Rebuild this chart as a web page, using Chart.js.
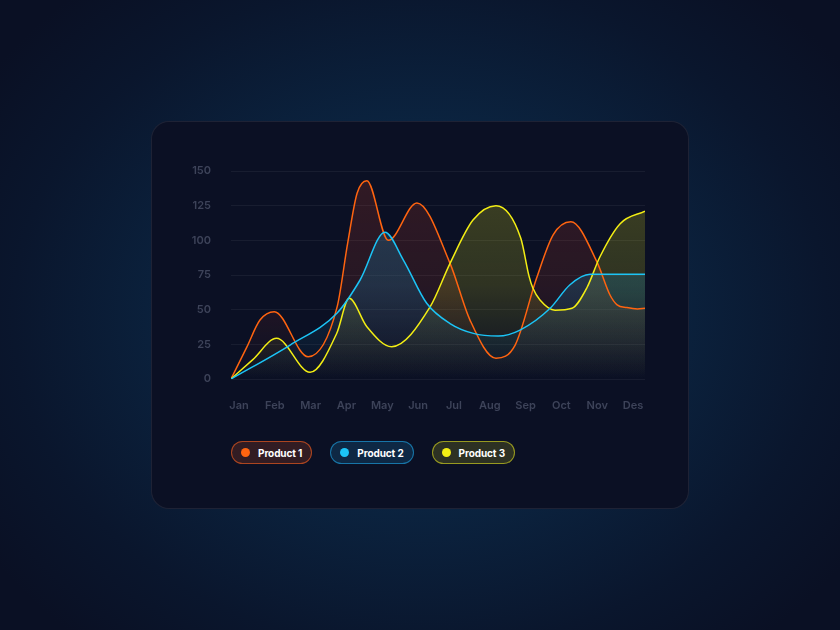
<!DOCTYPE html>
<html>
<head>
<meta charset="utf-8">
<script src="https://cdn.jsdelivr.net/npm/chart.js@4"></script>
<style>
  html, body { margin: 0; padding: 0; }
  body {
    width: 840px; height: 630px; overflow: hidden; position: relative;
    background: #0a1024;
    background: radial-gradient(ellipse 62% 68% at 50% 50%, #0c2d4c 0%, #0b2542 40%, #0a162d 78%, #0a1024 100%);
    font-family: Inter, "Noto Sans", sans-serif;
  }
  .card {
    position: absolute; left: 151px; top: 121px; width: 536px; height: 386px;
    border-radius: 18px; background: #0b1024;
    border: 1px solid rgba(255,255,255,0.08);
  }
  .chart-box { position: absolute; left: 182px; top: 152px; width: 500px; height: 280px; }
  .legend { position: absolute; left: 231px; top: 441px; display: flex; gap: 18px; }
  .pill {
    height: 21px; border-radius: 12px; display: flex; align-items: center;
    padding: 0 9px; color: #fff; font-size: 10px; font-weight: 700;
    letter-spacing: -0.1px; white-space: nowrap;
  }
  .pill .dot { width: 9px; height: 9px; border-radius: 50%; margin-right: 8px; }
</style>
</head>
<body>
<div class="card"></div>
<div class="chart-box"><canvas id="salesChart"></canvas></div>
<div class="legend" id="legend"></div>
<script>
const months = ["Jan", "Feb", "Mar", "Apr", "May", "Jun", "Jul", "Aug", "Sep", "Oct", "Nov", "Des"];
const yMax = 150;
const yStep = 25;

// x is the month position (Jan = 0 ... Des = 11), y is the value
const product1X = [0, 0.42, 0.77, 1.15, 2.05, 2.82, 3.1, 3.35, 3.61, 4.18, 4.94, 5.82, 6.35, 7.04, 7.55, 8.12, 8.56, 9.03, 9.72, 10.07, 10.26, 10.52, 10.8, 11];
const product1Y = [0, 23, 42.5, 48.5, 16, 52, 98, 134, 143, 100, 127, 83.4, 42.5, 15, 24.5, 72.8, 104, 113.4, 84.6, 60.6, 53.5, 51.5, 50.5, 51];

const product2X = [0, 1.57, 2.82, 3.43, 4.09, 4.58, 5.2, 5.82, 6.44, 7.1, 7.68, 8.48, 9.0, 9.54, 11];
const product2Y = [0, 24.5, 47.6, 71.4, 105.8, 85.8, 54.6, 40, 32.9, 31, 35.3, 51, 67.8, 75.5, 75.5];

const product3X = [0, 0.58, 1.21, 2.1, 2.81, 3.14, 3.61, 4.27, 5.29, 5.82, 6.43, 7.04, 7.7, 7.92, 8.02, 8.21, 8.61, 9.06, 9.46, 9.8, 10.34, 11];
const product3Y = [0, 14, 29.3, 4.8, 33, 58.2, 37.7, 23.3, 52, 83.4, 114.6, 125, 101.5, 74, 65.6, 57, 49.6, 51, 66, 88, 112, 121];

const productNames = ["Product 1", "Product 2", "Product 3"];
const lineColors = ["#ff6410", "#1cc4f6", "#f3ee14"];
const fillRgb = ["255, 80, 40", "25, 115, 155", "225, 225, 30"];
const fillAlpha = [0.16, 0.4, 0.24];
const pillRgb = ["255, 96, 30", "30, 170, 235", "225, 225, 30"];
const drawOrder = [3, 1, 2];

function toPoints(xs, ys) {
  return xs.map((x, i) => ({ x: x, y: ys[i] }));
}

function makeFill(i) {
  return (context) => {
    const chart = context.chart;
    const area = chart.chartArea;
    if (!area) return "rgba(0,0,0,0)";
    const g = chart.ctx.createLinearGradient(0, area.top, 0, area.bottom);
    g.addColorStop(0, `rgba(${fillRgb[i]}, ${fillAlpha[i]})`);
    g.addColorStop(0.55, `rgba(${fillRgb[i]}, ${fillAlpha[i] * 0.7})`);
    g.addColorStop(1, `rgba(${fillRgb[i]}, 0)`);
    return g;
  };
}

const series = [
  toPoints(product1X, product1Y),
  toPoints(product2X, product2Y),
  toPoints(product3X, product3Y),
];

const datasets = series.map((data, i) => ({
  label: productNames[i],
  data: data,
  order: drawOrder[i],
  borderColor: lineColors[i],
  borderWidth: 1.5,
  backgroundColor: makeFill(i),
  fill: "origin",
  cubicInterpolationMode: "monotone",
  pointRadius: 0,
  pointHoverRadius: 0,
}));

const tickFont = { family: "Inter", size: 11, weight: "600" };
const tickColor = "#3d4359";

const ctx = document.getElementById("salesChart").getContext("2d");
new Chart(ctx, {
  type: "line",
  data: { datasets: datasets },
  options: {
    responsive: true,
    maintainAspectRatio: false,
    animation: false,
    layout: { padding: { top: 19, right: 37, bottom: 13, left: 0 } },
    plugins: {
      legend: { display: false },
      tooltip: { enabled: false },
      filler: { drawTime: "beforeDatasetsDraw" },
    },
    scales: {
      x: {
        type: "linear",
        min: 0,
        max: months.length - 1,
        display: false,
      },
      xm: {
        type: "linear",
        position: "bottom",
        min: -0.2233,
        max: 11.335,
        grid: { display: false, drawTicks: false },
        border: { display: false },
        afterFit: (scale) => { scale.height = 40; },
        ticks: {
          stepSize: 1,
          includeBounds: false,
          autoSkip: false,
          maxRotation: 0,
          padding: 20,
          color: tickColor,
          font: tickFont,
          callback: (v) => months[v] || "",
        },
      },
      y: {
        min: 0,
        max: yMax,
        afterFit: (scale) => { scale.width = 49; },
        grid: {
          color: "rgba(255,255,255,0.055)",
          drawTicks: true,
          tickLength: 17,
          tickColor: "rgba(0,0,0,0)",
        },
        border: { display: false },
        ticks: {
          stepSize: yStep,
          padding: 3,
          color: tickColor,
          font: tickFont,
        },
      },
    },
  },
});

// pill legend built from the datasets
const $legend = document.getElementById("legend");
datasets.forEach((ds, i) => {
  const pill = document.createElement("div");
  pill.className = "pill";
  pill.style.background = `rgba(${pillRgb[i]}, 0.16)`;
  pill.style.border = `1px solid rgba(${pillRgb[i]}, 0.6)`;
  pill.innerHTML = `<span class="dot" style="background:${ds.borderColor}"></span><span>${ds.label}</span>`;
  $legend.appendChild(pill);
});
</script>
</body>
</html>
